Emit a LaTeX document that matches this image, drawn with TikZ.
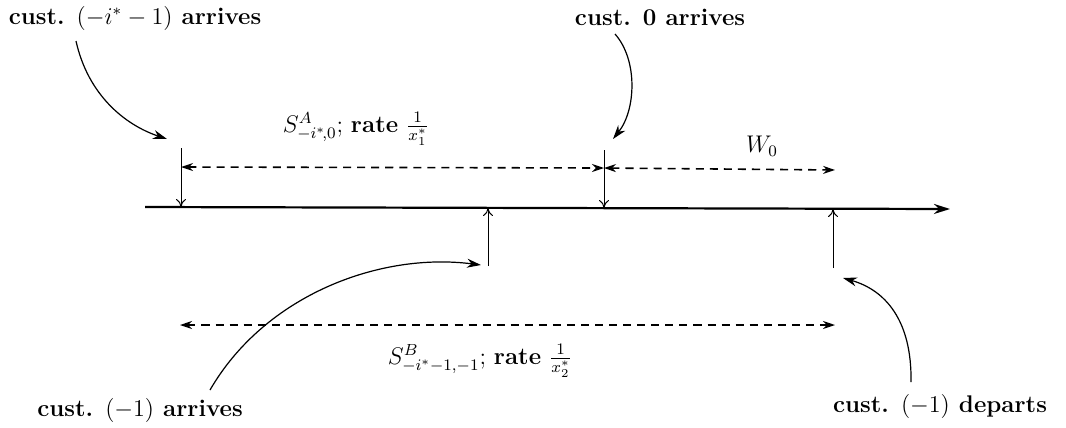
\documentclass[tikz,border=0pt]{standalone}
\usetikzlibrary{arrows.meta}
\tikzset{
  lbl/.style={inner sep=1pt, font=\large\bfseries},
  mlbl/.style={inner sep=1pt, font=\large},
  axis/.style={line width=1.1pt, -{Stealth[length=8pt,width=5pt]}},
  tick/.style={line width=0.5pt, -{To[length=4pt,width=5pt]}},
  dimline/.style={line width=0.8pt, dash pattern=on 4pt off 3pt, {Stealth[length=6pt,width=4pt]}-{Stealth[length=6pt,width=4pt]}},
  pointer/.style={line width=0.6pt, -{Stealth[length=7pt,width=4.5pt]}}
}
\begin{document}
\begin{tikzpicture}[x=0.0175cm,y=-0.0175cm]
\useasboundingbox (0,0) rectangle (1066,427);
% axis
\coordinate (axL) at (145,207);
\coordinate (axR) at (950,209);
\draw[axis] (axL) -- (axR);
% tick points
\coordinate (a1top) at (181,148);
\coordinate (a1) at (181,207);
\coordinate (a0top) at (604,150);
\coordinate (a0) at (604,208);
\coordinate (b1bot) at (488,266);
\coordinate (b1) at (488,208);
\coordinate (d1bot) at (833,268);
\coordinate (d1) at (833,209);
\draw[tick] (a1top) -- (a1);
\draw[tick] (a0top) -- (a0);
\draw[tick] (b1bot) -- (b1);
\draw[tick] (d1bot) -- (d1);
% dimension lines
\coordinate (s1) at (181,167);
\coordinate (s2) at (604,168);
\coordinate (s3) at (835,170);
\draw[dimline] (s1) -- (s2);
\draw[dimline] (s2) -- (s3);
\coordinate (t1) at (180,325);
\coordinate (t2) at (835,325);
\draw[dimline] (t1) -- (t2);
% labels
\node[mlbl] (SA) at (356,129) {$S^A_{-i^*\!,0}$; \textbf{rate} $\frac{1}{x_1^*}$};
\node[mlbl] (W0) at (762,146) {$W_0$};
\node[mlbl] (SB) at (480,361) {$S^B_{-i^*-1,-1}$; \textbf{rate} $\frac{1}{x_2^*}$};
\node[lbl] (c1) at (135,18) {cust. $(-i^*-1)$ arrives};
\node[lbl] (c0) at (660,17) {cust. 0 arrives};
\node[lbl] (cm1a) at (140,410) {cust. $(-1)$ arrives};
\node[lbl] (cm1d) at (940,406) {cust. $(-1)$ departs};
% pointers
\coordinate (p1) at (167,139);
\coordinate (p0) at (613,139);
\coordinate (pb) at (481,265);
\coordinate (pd) at (843,278);
\draw[pointer] (76,41) .. controls (88,95) and (125,125) .. (p1);
\draw[pointer] (615,34) .. controls (638,60) and (636,110) .. (p0);
\draw[pointer] (210,390) .. controls (265,295) and (380,252) .. (pb);
\draw[pointer] (911,382) .. controls (912,320) and (885,290) .. (pd);
\end{tikzpicture}
\end{document}
